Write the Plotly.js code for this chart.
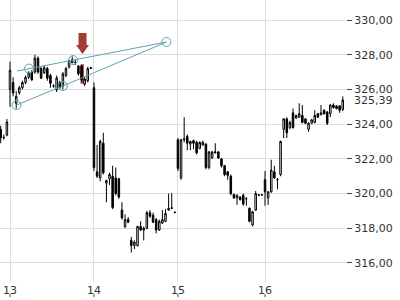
<!DOCTYPE html>
<html>
<head>
<meta charset="utf-8">
<script src="https://cdn.plot.ly/plotly-3.0.1.min.js"></script>
<style>
html,body{margin:0;padding:0;background:#fff;}
#chart{width:400px;height:300px;}
</style>
</head>
<body>
<div id="chart"></div>
<script>
// Candle data (index based intraday bars)
const openP = [
323.7, 323.25, 323.37, 326.0, 326.4, 325.2, 325.8, 326.1, 326.4, 326.7,
327.0, 327.0, 327.8, 327.2, 326.95, 327.2, 326.8, 326.2, 325.97, 326.4,
326.2, 326.8, 327.3, 327.55, 327.55, 327.35, 327.35, 326.3, 326.5, 327.2,
326.1, 321.25, 320.9, 322.9, 320.6, 320.85, 321.0, 320.9, 320.85, 319.05,
318.1, 318.5, 317.3, 317.0, 317.0, 318.1, 317.9, 318.0, 318.9, 318.75,
318.5, 317.9, 318.3, 318.4, 319.05, 319.15, 318.9, 323.1, 320.9, 323.1,
323.3, 322.85, 323.05, 322.95, 322.6, 322.8, 322.85, 321.5, 322.05, 322.35,
322.4, 322.0, 321.6, 321.25, 321.0, 319.95, 319.75, 319.8, 319.9, 319.7,
319.15, 318.2, 319.05, 319.9, 319.92, 320.8, 319.75, 320.1, 321.25, 320.8,
321.1, 323.7, 324.3, 323.8, 324.65, 324.35, 324.4, 324.5, 324.3, 323.7,
324.05, 324.1, 324.6, 324.55, 324.8, 324.7, 324.6, 325.1, 325.05, 325.05,
324.85
];
const highP = [
323.9, 323.4, 324.3, 327.6, 326.7, 325.9, 326.2, 326.5, 326.8, 327.05,
327.1, 328.0, 327.9, 327.3, 327.4, 327.3, 326.9, 326.3, 326.8, 326.5,
327.0, 327.3, 327.7, 327.9, 327.7, 327.4, 327.4, 326.7, 327.3, 327.3,
326.4, 322.8, 323.1, 323.5, 320.8, 321.2, 321.6, 321.5, 320.9, 319.5,
318.8, 318.65, 317.5, 317.3, 318.15, 318.4, 318.1, 319.0, 319.05, 318.9,
318.6, 318.5, 319.05, 319.1, 320.0, 320.03, 318.95, 323.2, 323.15, 324.4,
323.4, 323.05, 323.1, 323.05, 323.0, 323.05, 322.9, 322.45, 322.45, 322.9,
322.45, 322.05, 321.65, 321.3, 321.1, 320.0, 319.95, 319.85, 320.0, 319.8,
319.2, 319.0, 320.15, 319.95, 319.95, 321.3, 320.15, 321.95, 321.6, 320.9,
323.05, 324.35, 324.4, 324.2, 324.9, 324.55, 325.2, 325.1, 324.35, 324.1,
324.3, 324.8, 324.65, 325.1, 324.85, 324.75, 325.15, 325.2, 325.1, 325.1,
325.6
];
const lowP = [
322.9, 323.1, 323.3, 325.0, 325.6, 324.9, 325.7, 326.0, 326.3, 326.6,
326.5, 326.9, 326.9, 326.6, 326.9, 326.5, 326.1, 326.1, 325.85, 326.0,
326.0, 326.7, 327.2, 327.5, 327.4, 326.8, 326.45, 326.2, 326.4, 327.2,
321.3, 320.9, 320.7, 321.1, 319.5, 320.5, 319.1, 319.9, 319.7, 318.5,
318.0, 318.3, 316.6, 316.8, 316.95, 317.85, 317.3, 317.95, 318.6, 318.3,
317.7, 317.85, 318.25, 318.35, 319.0, 319.1, 318.88, 321.3, 320.8, 322.95,
322.5, 322.5, 322.55, 322.25, 322.55, 322.75, 321.4, 321.4, 322.0, 322.3,
322.0, 321.5, 321.0, 320.8, 319.9, 319.7, 319.35, 319.6, 319.3, 319.3,
318.35, 318.1, 319.0, 319.87, 319.88, 319.3, 319.35, 320.05, 320.85, 320.25,
321.0, 323.2, 323.2, 323.7, 323.75, 324.3, 324.35, 324.05, 324.0, 323.55,
324.0, 324.05, 324.35, 324.5, 324.55, 323.95, 324.4, 324.9, 324.85, 324.65,
324.75
];
const closeP = [
323.2, 323.22, 324.12, 327.1, 325.8, 325.6, 326.1, 326.4, 326.7, 326.95,
326.55, 327.8, 327.0, 326.65, 327.25, 326.65, 326.35, 326.2, 326.66, 326.1,
326.9, 327.2, 327.65, 327.7, 327.55, 326.9, 326.55, 326.6, 327.2, 327.25,
321.5, 321.0, 323.0, 321.2, 320.75, 321.1, 319.2, 320.0, 319.8, 318.6,
318.5, 318.35, 317.0, 317.2, 318.1, 317.9, 318.0, 318.9, 318.7, 318.35,
317.9, 318.4, 318.5, 318.85, 319.15, 319.17, 318.92, 321.45, 323.1, 323.15,
322.9, 323.0, 322.9, 322.35, 322.95, 322.95, 321.5, 322.4, 322.4, 322.4,
322.05, 321.6, 321.1, 321.05, 320.0, 319.75, 319.9, 319.65, 319.4, 319.7,
318.4, 318.95, 320.0, 319.92, 319.93, 320.1, 320.1, 321.35, 320.9, 320.8,
323.0, 324.3, 323.5, 324.1, 323.8, 324.5, 324.6, 324.1, 324.05, 324.05,
324.25, 324.5, 324.4, 324.65, 324.6, 324.05, 325.1, 324.95, 324.9, 324.8,
325.39
];

// Day boundaries (bar index where each day starts) and labels
const dayStarts = [3, 30, 57, 85];
const dayLabels = ['13', '14', '15', '16'];

// Y ticks
const yTicks = [316, 318, 320, 322, 324, 326, 328, 330];
const yTickText = ['316,00', '318,00', '320,00', '322,00', '324,00', '326,00', '328,00', '330,00'];
const lastPrice = 325.39;
const lastPriceText = '325,39';

// Triangle drawing (bar index, price)
const lowerLineX = [5.1, 20.0, 53.3];
const lowerLineY = [325.1, 326.2, 328.73];
const upperLineX = [5.25, 9.1, 23.3, 53.3];
const upperLineY = [327.06, 327.2, 327.69, 328.73];
const anchorX = [5.1, 9.1, 23.3, 20.0, 53.3];
const anchorY = [325.1, 327.2, 327.69, 326.2, 328.73];

// Signal bar
const signalIndex = 26;

const xIdx = openP.map((_, i) => i);
const teal = '#5fa3aa';
const sigColor = '#a23d34';

const traces = [
  {
    type: 'scatter', mode: 'lines', x: upperLineX, y: upperLineY,
    line: {color: teal, width: 1}, hoverinfo: 'skip', showlegend: false
  },
  {
    type: 'scatter', mode: 'lines', x: lowerLineX, y: lowerLineY,
    line: {color: teal, width: 1}, hoverinfo: 'skip', showlegend: false
  },
  {
    type: 'candlestick', x: xIdx, open: openP, high: highP, low: lowP, close: closeP,
    increasing: {line: {color: '#000', width: 1}, fillcolor: '#ffffff'},
    decreasing: {line: {color: '#000', width: 1}, fillcolor: '#000000'},
    whiskerwidth: 0, showlegend: false, hoverinfo: 'skip'
  },
  {
    type: 'scatter', mode: 'markers', x: anchorX, y: anchorY,
    marker: {symbol: 'circle-open', size: 9, color: teal, line: {width: 1, color: teal}},
    hoverinfo: 'skip', showlegend: false
  }
];

const shapes = [];
// red highlight behind signal bar
shapes.push({
  type: 'rect', layer: 'below', xref: 'x', yref: 'y',
  x0: signalIndex - 0.3, x1: signalIndex + 0.75,
  y0: lowP[signalIndex] - 0.12, y1: highP[signalIndex] + 0.05,
  fillcolor: sigColor, line: {width: 0}
});
// down arrow above signal bar
shapes.push({
  type: 'path', xref: 'x', yref: 'y',
  xsizemode: 'pixel', ysizemode: 'pixel',
  xanchor: signalIndex, yanchor: highP[signalIndex],
  path: 'M 1 11 L 7.5 20 L 5 20 L 5 32 L -3 32 L -3 20 L -5.5 20 Z',
  fillcolor: sigColor, line: {width: 0}
});
// x tick marks under labels
dayStarts.forEach(d => {
  shapes.push({
    type: 'line', xref: 'x', yref: 'paper', ysizemode: 'pixel', yanchor: 0,
    x0: d, x1: d, y0: -12, y1: -15, line: {color: '#444', width: 1}
  });
});

const layout = {
  width: 400, height: 300,
  margin: {l: 0, r: 54, t: 0, b: 18, pad: 0},
  paper_bgcolor: '#fff', plot_bgcolor: '#fff',
  font: {family: 'DejaVu Sans', size: 11, color: '#333'},
  showlegend: false,
  hovermode: false,
  xaxis: {
    range: [-0.215, 111.04],
    tickvals: dayStarts, ticktext: dayLabels,
    showgrid: true, gridcolor: '#dddddd', gridwidth: 1,
    ticks: '', zeroline: false, showline: false,
    rangeslider: {visible: false},
    tickfont: {family: 'DejaVu Sans', size: 11, color: '#333'}
  },
  yaxis: {
    side: 'right',
    range: [314.905, 331.152],
    tickvals: yTicks, ticktext: yTickText,
    showgrid: true, gridcolor: '#dddddd', gridwidth: 1,
    ticks: 'outside', ticklen: 5, tickcolor: '#444', tickwidth: 1,
    zeroline: false, showline: false,
    tickfont: {family: 'DejaVu Sans', size: 11, color: '#333'}
  },
  shapes: shapes,
  annotations: [{
    xref: 'paper', x: 1, xanchor: 'left', xshift: 7,
    yref: 'y', y: lastPrice, yanchor: 'middle',
    text: lastPriceText, showarrow: false,
    bgcolor: '#ffffff', borderpad: 0,
    font: {family: 'DejaVu Sans', size: 11, color: '#333'}
  }]
};

Plotly.newPlot('chart', traces, layout, {displayModeBar: false, staticPlot: true});
</script>
</body>
</html>
